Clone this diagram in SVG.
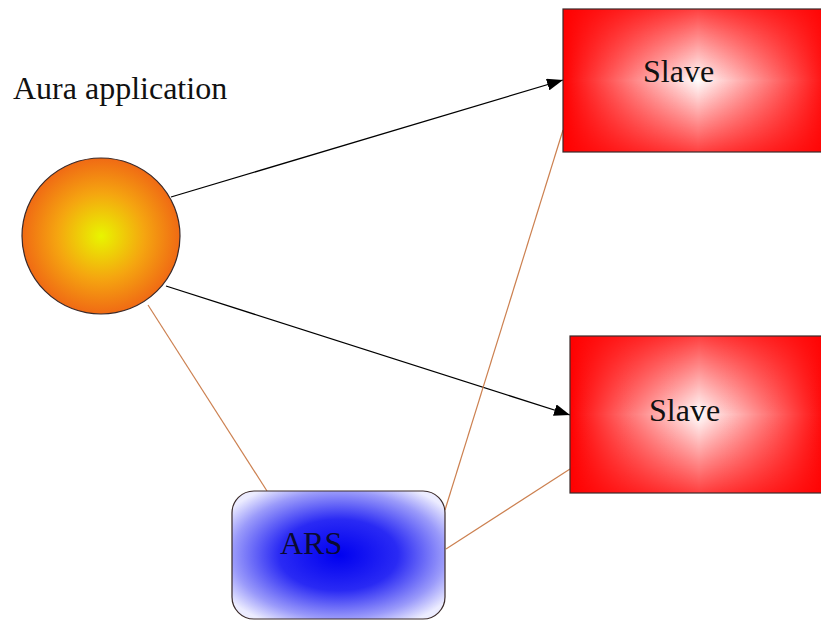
<svg xmlns="http://www.w3.org/2000/svg" width="821" height="622" viewBox="0 0 821 622">
  <style>
    .label { font-family: "Liberation Serif", "Times New Roman", serif; font-size: 32px; fill: #111; }
    .arrow { stroke: #000; stroke-width: 1.3; fill: none; marker-end: url(#head); }
    .link { stroke: #cc8050; stroke-width: 1.2; fill: none; }
    .edge { stroke: #3a2a2a; stroke-width: 1.2; }
  </style>
  <defs>
    <marker id="head" viewBox="0 0 16 12" refX="16" refY="6" markerWidth="16" markerHeight="12" markerUnits="userSpaceOnUse" orient="auto">
      <path d="M0,0 L16,6 L0,12 Z" fill="#000"/>
    </marker>
    <radialGradient id="sun" cx="0.5" cy="0.5" r="0.5">
      <stop offset="0" stop-color="#e8f500"/>
      <stop offset="0.55" stop-color="#f5a510"/>
      <stop offset="1" stop-color="#f06a14"/>
    </radialGradient>
    <!-- red slave fill: horizontal white band masked by a vertical one -->
    <linearGradient id="hband" x1="0" y1="0" x2="1" y2="0">
      <stop offset="0" stop-color="#fff" stop-opacity="0"/>
      <stop offset="0.5" stop-color="#fff" stop-opacity="1"/>
      <stop offset="1" stop-color="#fff" stop-opacity="0"/>
    </linearGradient>
    <linearGradient id="vband" x1="0" y1="0" x2="0" y2="1">
      <stop offset="0" stop-color="#fff" stop-opacity="0.25"/>
      <stop offset="0.5" stop-color="#fff" stop-opacity="1"/>
      <stop offset="1" stop-color="#fff" stop-opacity="0.25"/>
    </linearGradient>
    <mask id="vmask" maskContentUnits="objectBoundingBox">
      <rect x="0" y="0" width="1" height="1" fill="url(#vband)"/>
    </mask>
    <radialGradient id="ars" cx="0.5" cy="0.5" r="0.62">
      <stop offset="0" stop-color="#0000f0"/>
      <stop offset="0.45" stop-color="#2a2af4"/>
      <stop offset="0.8" stop-color="#9a9afa"/>
      <stop offset="1" stop-color="#ececff"/>
    </radialGradient>
  </defs>

  <g id="connectors">
    <line class="arrow" x1="171" y1="197" x2="563" y2="80"/>
    <line class="arrow" x1="166" y1="286" x2="570" y2="415"/>
    <line class="link" x1="148" y1="305" x2="267" y2="491"/>
    <line class="link" x1="445" y1="510" x2="563" y2="130"/>
    <line class="link" x1="446" y1="549" x2="570" y2="469"/>
  </g>

  <g id="aura-label">
    <text class="label" x="13" y="99">Aura application</text>
  </g>

  <g id="aura">
    <ellipse cx="101" cy="236" rx="79" ry="78" fill="url(#sun)" class="edge"/>
  </g>

  <g id="slave-1">
    <rect x="563" y="9" width="270" height="143" fill="#ff0000"/>
    <rect x="563" y="9" width="270" height="143" fill="url(#hband)" mask="url(#vmask)"/>
    <rect x="563" y="9" width="270" height="143" fill="none" class="edge"/>
    <text class="label" x="643" y="82">Slave</text>
  </g>

  <g id="slave-2">
    <rect x="570" y="336" width="258" height="157" fill="#ff0000"/>
    <rect x="570" y="336" width="258" height="157" fill="url(#hband)" mask="url(#vmask)"/>
    <rect x="570" y="336" width="258" height="157" fill="none" class="edge"/>
    <text class="label" x="649" y="421">Slave</text>
  </g>

  <g id="ars-node">
    <rect x="232" y="491" width="213" height="128" rx="22" ry="22" fill="url(#ars)" class="edge"/>
    <text class="label" x="280" y="554" style="fill:#0a0a30">ARS</text>
  </g>
</svg>
